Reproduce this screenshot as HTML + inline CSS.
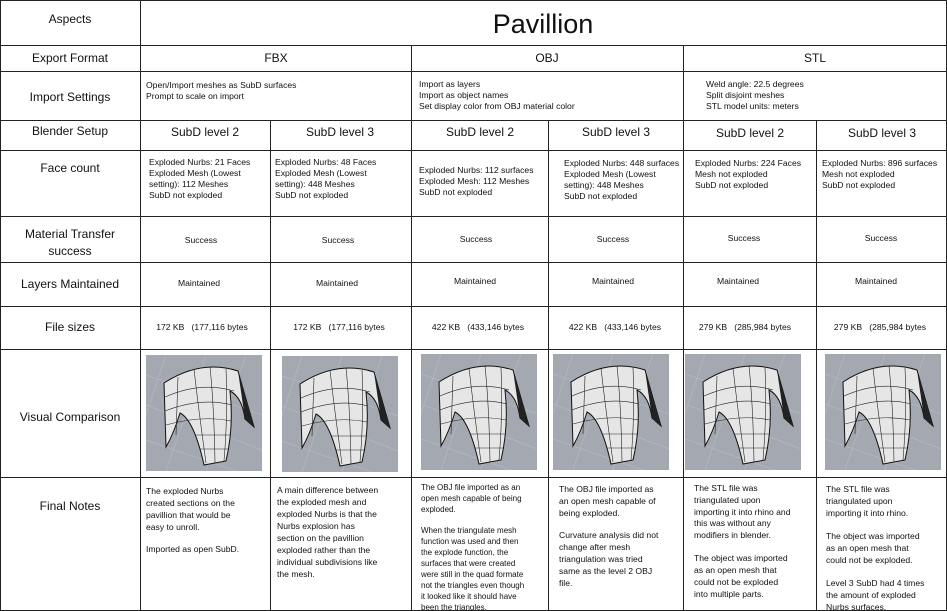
<!DOCTYPE html>
<html><head><meta charset="utf-8"><style>
html,body{margin:0;padding:0;background:#fff}
svg{display:block}
text{font-family:"Liberation Sans",sans-serif;fill:#111}
.h{font-size:12px}
.s{font-size:8.6px}
.n{font-size:8.6px}
</style></head><body>
<svg width="947" height="611" viewBox="0 0 947 611" xmlns="http://www.w3.org/2000/svg">
<defs>
<clipPath id="cp"><rect x="0" y="0" width="116" height="116"/></clipPath>
<g id="arch">
<g clip-path="url(#cp)">
<rect x="0" y="0" width="116" height="116" fill="#a4a9b1"/>
<g stroke="#b7bcc3" stroke-width="0.6">
<line x1="0" y1="20" x2="116" y2="60"/><line x1="0" y1="50" x2="116" y2="95"/><line x1="0" y1="85" x2="116" y2="125"/>
<line x1="20" y1="0" x2="0" y2="60"/><line x1="60" y1="0" x2="20" y2="116"/><line x1="100" y1="0" x2="60" y2="116"/>
</g>
<path d="M18,28 Q55,4 92,16 L108,72 L99,64 Q96,42 84,36 Q88,72 80,106 L58,110 Q48,65 34,58 Q28,78 20,92 Z" fill="#e6e6e6" stroke="#111" stroke-width="1"/>
<g stroke="#222" stroke-width="0.6" fill="none">
<path d="M19,42 Q55,26 88,36"/><path d="M19,56 Q55,42 86,50"/><path d="M20,70 Q55,60 85,66"/><path d="M50,80 L84,80"/><path d="M54,94 L82,94"/>
<path d="M32,22 L30,80"/><path d="M48,14 Q52,50 60,108"/><path d="M64,12 Q68,50 69,108"/><path d="M80,14 Q82,60 78,106"/>
</g>
<path d="M92,16 L108,72 L99,64 Z" fill="#222"/>
</g>
</g>
</defs>
<g stroke="#222" stroke-width="1" fill="none">
<rect x="0.5" y="0.5" width="946" height="610"/>
<line x1="140.5" y1="0" x2="140.5" y2="611"/>
<line x1="0" y1="45.5" x2="947" y2="45.5"/>
<line x1="0" y1="71.5" x2="947" y2="71.5"/>
<line x1="0" y1="120.5" x2="947" y2="120.5"/>
<line x1="0" y1="150.5" x2="947" y2="150.5"/>
<line x1="0" y1="216.5" x2="947" y2="216.5"/>
<line x1="0" y1="262.5" x2="947" y2="262.5"/>
<line x1="0" y1="306.5" x2="947" y2="306.5"/>
<line x1="0" y1="349.5" x2="947" y2="349.5"/>
<line x1="0" y1="477.5" x2="947" y2="477.5"/>
<line x1="411.5" y1="45" x2="411.5" y2="611"/>
<line x1="683.5" y1="45" x2="683.5" y2="611"/>
<line x1="270.5" y1="120" x2="270.5" y2="611"/>
<line x1="548.5" y1="120" x2="548.5" y2="611"/>
<line x1="816.5" y1="120" x2="816.5" y2="611"/>
</g>
<g class="h" text-anchor="middle">
<text x="70" y="23">Aspects</text>
<text x="70" y="62">Export Format</text>
<text x="70" y="101">Import Settings</text>
<text x="70" y="135">Blender Setup</text>
<text x="70" y="172">Face count</text>
<text x="70" y="238">Material Transfer</text>
<text x="70" y="255">success</text>
<text x="70" y="288">Layers Maintained</text>
<text x="70" y="331">File sizes</text>
<text x="70" y="421">Visual Comparison</text>
<text x="70" y="510">Final Notes</text>
<text x="276" y="62">FBX</text>
<text x="547" y="62">OBJ</text>
<text x="815" y="62">STL</text>
<text x="205" y="136">SubD level 2</text>
<text x="340" y="136">SubD level 3</text>
<text x="480" y="136">SubD level 2</text>
<text x="616" y="136">SubD level 3</text>
<text x="750" y="137">SubD level 2</text>
<text x="882" y="137">SubD level 3</text>
</g>
<text x="543" y="33" text-anchor="middle" style="font-size:27px">Pavillion</text>
<g class="s">
<text x="146" y="88">Open/Import meshes as SubD surfaces</text>
<text x="146" y="99">Prompt to scale on import</text>
<text x="419" y="87">Import as layers</text>
<text x="419" y="98">Import as object names</text>
<text x="419" y="109">Set display color from OBJ material color</text>
<text x="706" y="87">Weld angle: 22.5 degrees</text>
<text x="706" y="98">Split disjoint meshes</text>
<text x="706" y="109">STL model units: meters</text>

<text x="149" y="165">Exploded Nurbs: 21 Faces</text>
<text x="149" y="176">Exploded Mesh (Lowest</text>
<text x="149" y="187">setting): 112 Meshes</text>
<text x="149" y="198">SubD not exploded</text>
<text x="275" y="165">Exploded Nurbs: 48 Faces</text>
<text x="275" y="176">Exploded Mesh (Lowest</text>
<text x="275" y="187">setting): 448 Meshes</text>
<text x="275" y="198">SubD not exploded</text>
<text x="419" y="173">Exploded Nurbs: 112 surfaces</text>
<text x="419" y="184">Exploded Mesh: 112 Meshes</text>
<text x="419" y="195">SubD not exploded</text>
<text x="564" y="166">Exploded Nurbs: 448 surfaces</text>
<text x="564" y="177">Exploded Mesh (Lowest</text>
<text x="564" y="188">setting): 448 Meshes</text>
<text x="564" y="199">SubD not exploded</text>
<text x="695" y="166">Exploded Nurbs: 224 Faces</text>
<text x="695" y="177">Mesh not exploded</text>
<text x="695" y="188">SubD not exploded</text>
<text x="822" y="166">Exploded Nurbs: 896 surfaces</text>
<text x="822" y="177">Mesh not exploded</text>
<text x="822" y="188">SubD not exploded</text>
</g>
<g class="s" text-anchor="middle">
<text x="201" y="243">Success</text><text x="338" y="243">Success</text><text x="476" y="242">Success</text>
<text x="613" y="242">Success</text><text x="744" y="241">Success</text><text x="881" y="241">Success</text>
<text x="199" y="286">Maintained</text><text x="337" y="286">Maintained</text><text x="475" y="284">Maintained</text>
<text x="613" y="284">Maintained</text><text x="738" y="284">Maintained</text><text x="876" y="284">Maintained</text>
<text x="202" y="330" xml:space="preserve">172 KB   (177,116 bytes</text>
<text x="339" y="330" xml:space="preserve">172 KB   (177,116 bytes</text>
<text x="478" y="330" xml:space="preserve">422 KB   (433,146 bytes</text>
<text x="615" y="330" xml:space="preserve">422 KB   (433,146 bytes</text>
<text x="745" y="330" xml:space="preserve">279 KB   (285,984 bytes</text>
<text x="880" y="330" xml:space="preserve">279 KB   (285,984 bytes</text>
</g>
<use href="#arch" x="146" y="355"/>
<use href="#arch" x="282" y="356"/>
<use href="#arch" x="421" y="354"/>
<use href="#arch" x="553" y="354"/>
<use href="#arch" x="685" y="354"/>
<use href="#arch" x="825" y="354"/>
<g class="n">
<text x="146" y="494">The exploded Nurbs</text>
<text x="146" y="506">created sections on the</text>
<text x="146" y="518">pavillion that would be</text>
<text x="146" y="530">easy to unroll.</text>
<text x="146" y="552">Imported as open SubD.</text>
<text x="277" y="493">A main difference between</text>
<text x="277" y="505">the exploded mesh and</text>
<text x="277" y="517">exploded Nurbs is that the</text>
<text x="277" y="529">Nurbs explosion has</text>
<text x="277" y="541">section on the pavillion</text>
<text x="277" y="553">exploded rather than the</text>
<text x="277" y="565">individual subdivisions like</text>
<text x="277" y="577">the mesh.</text>
<g style="font-size:8px">
<text x="421" y="490">The OBJ file imported as an</text>
<text x="421" y="501">open mesh capable of being</text>
<text x="421" y="512">exploded.</text>
<text x="421" y="533">When the triangulate mesh</text>
<text x="421" y="544">function was used and then</text>
<text x="421" y="555">the explode function, the</text>
<text x="421" y="566">surfaces that were created</text>
<text x="421" y="577">were still in the quad formate</text>
<text x="421" y="588">not the triangles even though</text>
<text x="421" y="599">it looked like it should have</text>
<text x="421" y="610">been the triangles.</text>
</g>
<text x="559" y="492">The OBJ file imported as</text>
<text x="559" y="504">an open mesh capable of</text>
<text x="559" y="516">being exploded.</text>
<text x="559" y="538">Curvature analysis did not</text>
<text x="559" y="550">change after mesh</text>
<text x="559" y="562">triangulation was tried</text>
<text x="559" y="574">same as the level 2 OBJ</text>
<text x="559" y="586">file.</text>
<text x="694" y="491">The STL file was</text>
<text x="694" y="503">triangulated upon</text>
<text x="694" y="515">importing it into rhino and</text>
<text x="694" y="526">this was without any</text>
<text x="694" y="538">modifiers in blender.</text>
<text x="694" y="561">The object was imported</text>
<text x="694" y="573">as an open mesh that</text>
<text x="694" y="585">could not be exploded</text>
<text x="694" y="597">into multiple parts.</text>
<text x="826" y="492">The STL file was</text>
<text x="826" y="504">triangulated upon</text>
<text x="826" y="516">importing it into rhino.</text>
<text x="826" y="539">The object was imported</text>
<text x="826" y="551">as an open mesh that</text>
<text x="826" y="563">could not be exploded.</text>
<text x="826" y="586">Level 3 SubD had 4 times</text>
<text x="826" y="598">the amount of exploded</text>
<text x="826" y="610">Nurbs surfaces.</text>
</g>
</svg>
</body></html>
